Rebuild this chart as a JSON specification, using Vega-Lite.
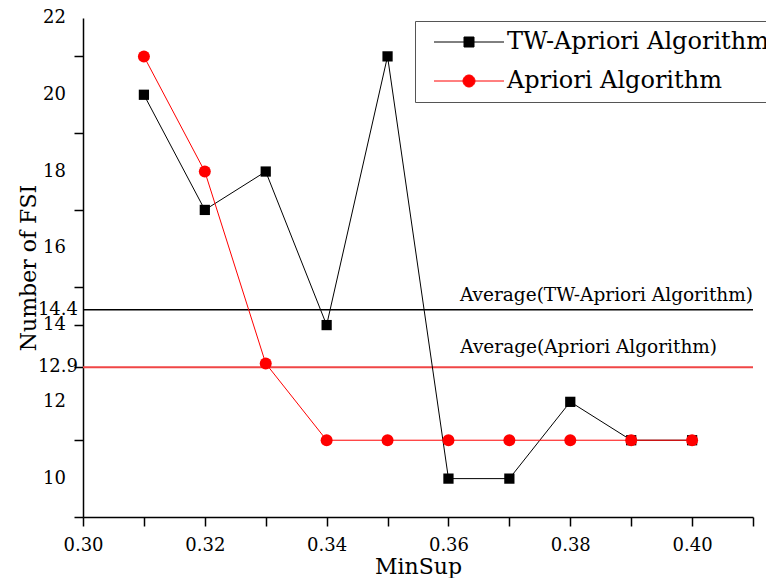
{
  "$schema": "https://vega.github.io/schema/vega-lite/v6.json",
  "width": 670,
  "height": 499,
  "autosize": {"type": "none"},
  "padding": {"left": 83, "top": 18, "right": 13, "bottom": 61},
  "background": "white",
  "config": {
    "view": {"stroke": null},
    "font": "DejaVu Serif",
    "axis": {
      "grid": false,
      "domainColor": "black",
      "domainWidth": 1.5,
      "ticks": true,
      "tickColor": "black",
      "tickWidth": 1.5,
      "tickSize": 9,
      "labelColor": "black",
      "titleColor": "black",
      "labelFont": "DejaVu Serif",
      "titleFont": "DejaVu Serif",
      "labelFontSize": 18,
      "titleFontSize": 22,
      "titleFontWeight": "normal",
      "labelOverlap": false,
      "labelFlush": false
    },
    "legend": {
      "title": null,
      "orient": "none",
      "legendX": 332,
      "legendY": 3,
      "strokeColor": "#555555",
      "fillColor": "white",
      "padding": 9,
      "symbolSize": 100,
      "symbolStrokeWidth": 1,
      "symbolOpacity": 1,
      "symbolOffset": 33,
      "labelOffset": 26,
      "rowPadding": 15,
      "labelFont": "DejaVu Serif",
      "labelFontSize": 24,
      "labelColor": "black",
      "labelLimit": 0
    }
  },
  "datasets": {
    "main": [
      {"minsup": 0.31, "fsi": 20, "series": "TW-Apriori Algorithm"},
      {"minsup": 0.32, "fsi": 17, "series": "TW-Apriori Algorithm"},
      {"minsup": 0.33, "fsi": 18, "series": "TW-Apriori Algorithm"},
      {"minsup": 0.34, "fsi": 14, "series": "TW-Apriori Algorithm"},
      {"minsup": 0.35, "fsi": 21, "series": "TW-Apriori Algorithm"},
      {"minsup": 0.36, "fsi": 10, "series": "TW-Apriori Algorithm"},
      {"minsup": 0.37, "fsi": 10, "series": "TW-Apriori Algorithm"},
      {"minsup": 0.38, "fsi": 12, "series": "TW-Apriori Algorithm"},
      {"minsup": 0.39, "fsi": 11, "series": "TW-Apriori Algorithm"},
      {"minsup": 0.40, "fsi": 11, "series": "TW-Apriori Algorithm"},
      {"minsup": 0.31, "fsi": 21, "series": "Apriori Algorithm"},
      {"minsup": 0.32, "fsi": 18, "series": "Apriori Algorithm"},
      {"minsup": 0.33, "fsi": 13, "series": "Apriori Algorithm"},
      {"minsup": 0.34, "fsi": 11, "series": "Apriori Algorithm"},
      {"minsup": 0.35, "fsi": 11, "series": "Apriori Algorithm"},
      {"minsup": 0.36, "fsi": 11, "series": "Apriori Algorithm"},
      {"minsup": 0.37, "fsi": 11, "series": "Apriori Algorithm"},
      {"minsup": 0.38, "fsi": 11, "series": "Apriori Algorithm"},
      {"minsup": 0.39, "fsi": 11, "series": "Apriori Algorithm"},
      {"minsup": 0.40, "fsi": 11, "series": "Apriori Algorithm"}
    ],
    "avg": [
      {"series": "TW-Apriori Algorithm", "avg": 14.4, "label": "Average(TW-Apriori Algorithm)"},
      {"series": "Apriori Algorithm", "avg": 12.9, "label": "Average(Apriori Algorithm)"}
    ],
    "ylabels": [
      {"v": 10, "t": "10"},
      {"v": 12, "t": "12"},
      {"v": 12.9, "t": "12.9"},
      {"v": 14, "t": "14"},
      {"v": 14.4, "t": "14.4"},
      {"v": 16, "t": "16"},
      {"v": 18, "t": "18"},
      {"v": 20, "t": "20"},
      {"v": 22, "t": "22"}
    ]
  },
  "layer": [
    {
      "data": {"name": "main"},
      "mark": {"type": "point", "filled": true, "opacity": 0},
      "encoding": {
        "x": {
          "field": "minsup", "type": "quantitative",
          "scale": {"domain": [0.30, 0.41], "nice": false, "zero": false},
          "axis": {
            "title": "MinSup",
            "values": [0.30, 0.31, 0.32, 0.33, 0.34, 0.35, 0.36, 0.37, 0.38, 0.39, 0.40, 0.41],
            "labelExpr": "round(datum.value*100) % 2 == 0 ? format(datum.value, '.2f') : ''",
            "ticks": true,
            "tickSize": 9,
            "labelOverlap": false,
            "labelPadding": 10,
            "titlePadding": 2,
            "encode": {
              "ticks": {
                "y2": {"value": {"expr": "round(datum.value*100) % 2 == 1 ? 5 : 9"}},
                "opacity": {"value": 1}
              }
            }
          }
        },
        "y": {
          "field": "fsi", "type": "quantitative",
          "scale": {"domain": [9, 22], "nice": false, "zero": false},
          "axis": {
            "title": "Number of FSI",
            "values": [9, 10, 11, 12, 12.9, 13, 14, 14.4, 15, 16, 17, 18, 19, 20, 21, 22],
            "labels": false,
            "ticks": true,
            "tickSize": 9,
            "titlePadding": 33,
            "encode": {
              "ticks": {
                "x2": {"value": {"expr": "datum.value % 2 == 1 ? -5 : -9"}},
                "opacity": {"value": 1}
              }
            }
          }
        },
        "fill": {
          "field": "series", "type": "nominal",
          "scale": {"domain": ["TW-Apriori Algorithm", "Apriori Algorithm"], "range": ["black", "red"]},
          "legend": {"title": null}
        },
        "stroke": {
          "field": "series", "type": "nominal",
          "scale": {"domain": ["TW-Apriori Algorithm", "Apriori Algorithm"], "range": ["black", "red"]},
          "legend": {"title": null}
        },
        "shape": {
          "field": "series", "type": "nominal",
          "scale": {"domain": ["TW-Apriori Algorithm", "Apriori Algorithm"], "range": ["M-7,0H7M-1,-1H1V1H-1Z", "M-7,0H7M-1.2,0A1.2,1.2,0,1,0,1.2,0A1.2,1.2,0,1,0,-1.2,0Z"]},
          "legend": {"title": null}
        }
      }
    },
    {
      "data": {"name": "ylabels"},
      "transform": [{"filter": "datum.v % 1 == 0"}],
      "mark": {"type": "text", "align": "right", "baseline": "middle", "dx": -17, "fontSize": 18, "font": "DejaVu Serif", "color": "black"},
      "encoding": {"x": {"datum": 0.30, "type": "quantitative"}, "y": {"field": "v", "type": "quantitative"}, "text": {"field": "t"}}
    },
    {
      "data": {"name": "ylabels"},
      "transform": [{"filter": "datum.v % 1 != 0"}],
      "mark": {"type": "text", "align": "right", "baseline": "middle", "dx": -5, "fontSize": 18, "font": "DejaVu Serif", "color": "black"},
      "encoding": {"x": {"datum": 0.30, "type": "quantitative"}, "y": {"field": "v", "type": "quantitative"}, "text": {"field": "t"}}
    },
    {
      "data": {"name": "avg"},
      "transform": [{"filter": "datum.series == 'TW-Apriori Algorithm'"}],
      "layer": [
        {
          "mark": {"type": "rule", "color": "black", "strokeWidth": 1.5},
          "encoding": {"y": {"field": "avg", "type": "quantitative"}}
        },
        {
          "mark": {"type": "text", "align": "right", "baseline": "alphabetic", "dy": -9, "fontSize": 18.5, "font": "DejaVu Serif", "color": "black"},
          "encoding": {"x": {"datum": 0.41, "type": "quantitative"}, "y": {"field": "avg", "type": "quantitative"}, "text": {"field": "label"}}
        }
      ]
    },
    {
      "data": {"name": "avg"},
      "transform": [{"filter": "datum.series == 'Apriori Algorithm'"}],
      "layer": [
        {
          "mark": {"type": "rule", "color": "#f04646", "strokeWidth": 2},
          "encoding": {"y": {"field": "avg", "type": "quantitative"}}
        },
        {
          "mark": {"type": "text", "align": "right", "baseline": "alphabetic", "dy": -14, "fontSize": 18.5, "font": "DejaVu Serif", "color": "black"},
          "encoding": {"x": {"datum": 0.4041, "type": "quantitative"}, "y": {"field": "avg", "type": "quantitative"}, "text": {"field": "label"}}
        }
      ]
    },
    {
      "data": {"name": "main"},
      "transform": [{"filter": "datum.series == 'TW-Apriori Algorithm'"}],
      "layer": [
        {
          "mark": {"type": "line", "color": "black", "strokeWidth": 1},
          "encoding": {"x": {"field": "minsup", "type": "quantitative"}, "y": {"field": "fsi", "type": "quantitative"}}
        },
        {
          "mark": {"type": "point", "shape": "square", "filled": true, "color": "black", "size": 105, "opacity": 1},
          "encoding": {"x": {"field": "minsup", "type": "quantitative"}, "y": {"field": "fsi", "type": "quantitative"}}
        }
      ]
    },
    {
      "data": {"name": "main"},
      "transform": [{"filter": "datum.series == 'Apriori Algorithm'"}],
      "layer": [
        {
          "mark": {"type": "line", "color": "red", "strokeWidth": 1},
          "encoding": {"x": {"field": "minsup", "type": "quantitative"}, "y": {"field": "fsi", "type": "quantitative"}}
        },
        {
          "mark": {"type": "point", "shape": "circle", "filled": true, "color": "red", "size": 144, "opacity": 1},
          "encoding": {"x": {"field": "minsup", "type": "quantitative"}, "y": {"field": "fsi", "type": "quantitative"}}
        }
      ]
    }
  ]
}
